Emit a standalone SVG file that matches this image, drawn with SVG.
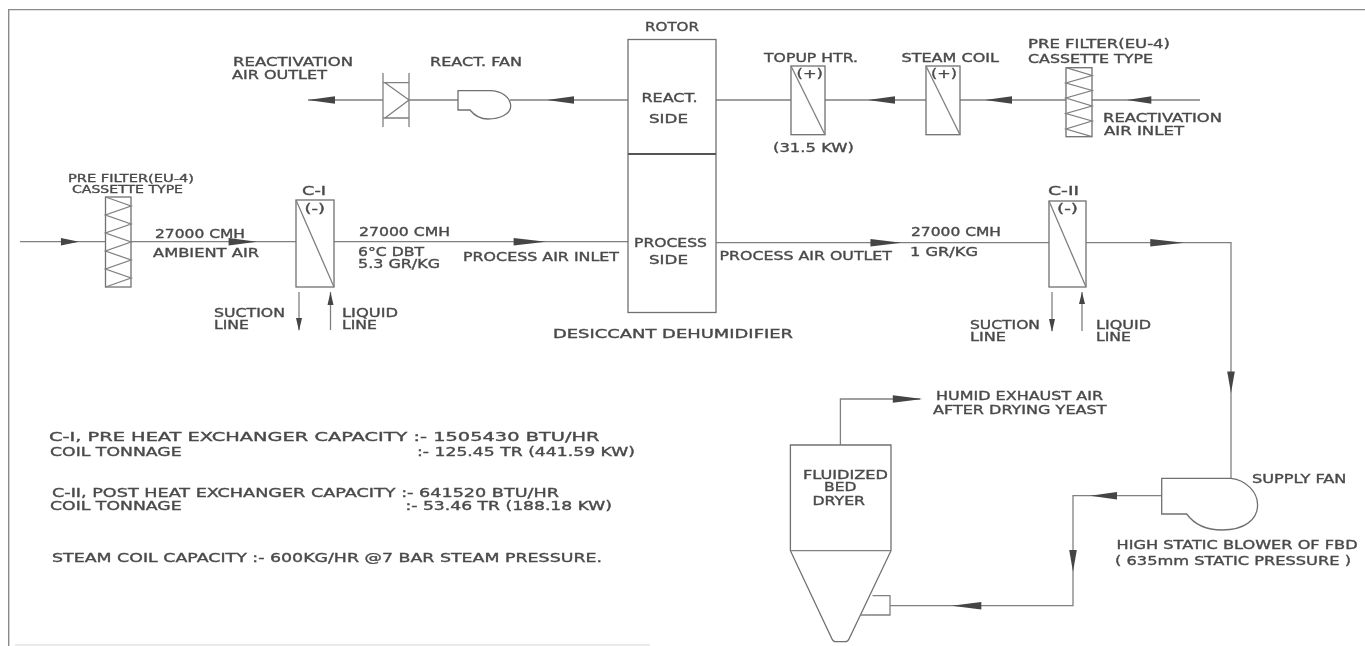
<svg xmlns="http://www.w3.org/2000/svg" width="1365" height="646" viewBox="0 0 1365 646">
<style>
text{font-family:"DejaVu Sans",Verdana,sans-serif;font-size:12px;fill:#4a4a4a;stroke:#4a4a4a;stroke-width:.35px}
.s{font-size:10.500px}
.l{fill:none;stroke:#808080;stroke-width:1.300}
.b{fill:#fff;stroke:#707070;stroke-width:1.300}
.k{fill:none;stroke:#555;stroke-width:1.800}
.a{fill:#444;stroke:none}
</style>
<defs>
<path id="ar" class="a" d="M0 0L-27 -3.800V3.800Z"/>
<path id="al" class="a" d="M0 0L27 -3.800V3.800Z"/>
<filter id="soft" x="0" y="0" width="100%" height="100%"><feGaussianBlur stdDeviation="0.35"/></filter>
</defs>
<rect width="1365" height="646" fill="#fff"/>
<g filter="url(#soft)">
<path d="M8.700 646V9.500H1365" fill="none" stroke="#8a8a8a" stroke-width="1.400"/>
<path d="M15 645H650" fill="none" stroke="#d5d5d5" stroke-width="1"/>
<g id="connectors">
<path class="l" d="M20 241.700H105.500M131 241.700H296M334 241.700H628M716 242.700H1049M1086 242.700H1231V478"/>
<path class="l" d="M308 100H383M409 100H458M510 100H628M716 100H791M825 100H926M960 100H1066M1092 100H1200"/>
<path class="l" d="M1162 495.700H1073V605.700H890"/>
<path class="l" d="M840.400 445V399H920"/>
<path class="l" d="M299 292V330M330.500 292V330M1052 292V331M1082 292V331"/>
<use href="#ar" transform="translate(79 241.700) scale(.67 1)"/>
<use href="#ar" transform="translate(257 241.700) scale(1.050 1)"/>
<use href="#ar" transform="translate(546 241.700) scale(1.200 1)"/>
<use href="#ar" transform="translate(901.500 242.700) scale(1.150 1)"/>
<use href="#ar" transform="translate(1184 242.700) scale(1.250 1)"/>
<use href="#al" transform="translate(308 100)"/>
<use href="#al" transform="translate(547 100)"/>
<use href="#al" transform="translate(868 100)"/>
<use href="#al" transform="translate(985 100)"/>
<use href="#al" transform="translate(1127 100) scale(.9 1)"/>
<use href="#ar" transform="translate(1231 393) rotate(90) scale(.8 1)"/>
<use href="#al" transform="translate(1090 495.700)"/>
<use href="#ar" transform="translate(1073 571.700) rotate(90) scale(.8 1)"/>
<use href="#al" transform="translate(951.600 605.700) scale(1.100 1)"/>
<use href="#ar" transform="translate(922.500 399) scale(1.100 1)"/>
<path class="a" d="M299 331L296 318H302ZM330.500 292L327.500 305H333.500ZM1052 332L1049 319H1055ZM1082 292L1079 304H1085Z"/>
</g>
<g id="filter-process"><rect class="b" x="105.500" y="197" width="25.500" height="90"/><path class="l" d="M105.500 197L131 206L105.500 215L131 224L105.500 233L131 242L105.500 251L131 260L105.500 269L131 278L105.500 287"/>
<text class="s" x="68" y="181.700" textLength="126" lengthAdjust="spacingAndGlyphs">PRE FILTER(EU-4)</text><text class="s" x="72" y="193" textLength="111" lengthAdjust="spacingAndGlyphs">CASSETTE TYPE</text></g>
<g id="c1"><rect class="b" x="296" y="200" width="38" height="87"/><path class="l" d="M296 200L334 287"/><text x="302" y="195" textLength="24" lengthAdjust="spacingAndGlyphs">C-I</text><text x="304.500" y="213" textLength="20.500" lengthAdjust="spacingAndGlyphs">(-)</text></g>
<g id="rotor"><rect x="628" y="39.500" width="88" height="273" class="b"/><path class="k" d="M628 154H716"/>
<text x="645" y="31" textLength="54" lengthAdjust="spacingAndGlyphs">ROTOR</text><text x="641.500" y="102" textLength="56" lengthAdjust="spacingAndGlyphs">REACT.</text><text x="649" y="123" textLength="39" lengthAdjust="spacingAndGlyphs">SIDE</text><text x="634" y="246.700" textLength="73" lengthAdjust="spacingAndGlyphs">PROCESS</text><text x="649" y="264" textLength="39" lengthAdjust="spacingAndGlyphs">SIDE</text></g>
<g id="react-damper"><path class="l" d="M383 73V127M409 73V127M383 82.700H409M383 118H409M385 82.700L409 100L385 118"/></g>
<g id="react-fan"><path class="b" d="M458 90.700H490C502 90.700 510.700 98 510.700 106C510.700 114 500 119 488 119C480 119 474 115 470 110H458Z"/></g>
<g id="topup"><rect class="b" x="791" y="66" width="34" height="68.700"/><path class="l" d="M791 66L825 134.700"/><text x="796.600" y="78" textLength="26.400" lengthAdjust="spacingAndGlyphs">(+)</text><text x="764" y="62" textLength="94" lengthAdjust="spacingAndGlyphs">TOPUP HTR.</text><text x="773" y="151.700" textLength="81" lengthAdjust="spacingAndGlyphs">(31.5 KW)</text></g>
<g id="steam"><rect class="b" x="926" y="66" width="34" height="68.700"/><path class="l" d="M926 66L960 134.700"/><text x="931" y="78" textLength="26" lengthAdjust="spacingAndGlyphs">(+)</text><text x="901.500" y="62" textLength="97.500" lengthAdjust="spacingAndGlyphs">STEAM COIL</text></g>
<g id="filter-react"><rect class="b" x="1066" y="67.700" width="26" height="69"/><path class="l" d="M1066 67.700L1092 75.500L1066 83L1092 90.500L1066 98L1092 106L1066 113.500L1092 121L1066 129L1092 136.700"/>
<text x="1028" y="47.700" textLength="142" lengthAdjust="spacingAndGlyphs">PRE FILTER(EU-4)</text><text x="1028" y="63" textLength="125" lengthAdjust="spacingAndGlyphs">CASSETTE TYPE</text></g>
<g id="c2"><rect class="b" x="1049" y="201" width="37" height="86"/><path class="l" d="M1049 201L1086 287"/><text x="1048" y="195" textLength="31" lengthAdjust="spacingAndGlyphs">C-II</text><text x="1057" y="213" textLength="21" lengthAdjust="spacingAndGlyphs">(-)</text></g>
<g id="dryer"><path class="b" d="M790.400 445H891V550.700L849 639Q848 641.700 845 641.700H836Q833 641.700 832 639L790.400 550.700Z"/><path class="l" d="M790.400 550.700H891"/><path class="l" d="M872.500 595.700H890V615H860.500"/>
<text x="803" y="479" textLength="85" lengthAdjust="spacingAndGlyphs">FLUIDIZED</text><text x="824" y="491" textLength="32.500" lengthAdjust="spacingAndGlyphs">BED</text><text x="812.500" y="505" textLength="52.500" lengthAdjust="spacingAndGlyphs">DRYER</text></g>
<g id="supply-fan"><path class="b" d="M1161.700 478.300H1231C1246 480 1257.600 492 1257.600 505C1257.600 520 1244 530 1222 530C1206 530 1194 524 1186.700 514H1161.700Z"/></g>
<g id="labels">
<text x="233" y="65.700" textLength="120" lengthAdjust="spacingAndGlyphs">REACTIVATION</text><text x="232" y="79" textLength="95" lengthAdjust="spacingAndGlyphs">AIR OUTLET</text><text x="430" y="65.700" textLength="92" lengthAdjust="spacingAndGlyphs">REACT. FAN</text>
<text x="155" y="237.700" textLength="90" lengthAdjust="spacingAndGlyphs">27000 CMH</text><text x="153" y="257" textLength="106" lengthAdjust="spacingAndGlyphs">AMBIENT AIR</text><text x="359" y="235.700" textLength="91" lengthAdjust="spacingAndGlyphs">27000 CMH</text><text x="358" y="255.700" textLength="66" lengthAdjust="spacingAndGlyphs">6°C DBT</text><text x="358" y="268" textLength="82" lengthAdjust="spacingAndGlyphs">5.3 GR/KG</text><text x="463" y="261" textLength="156" lengthAdjust="spacingAndGlyphs">PROCESS AIR INLET</text>
<text x="719.500" y="260" textLength="172.500" lengthAdjust="spacingAndGlyphs">PROCESS AIR OUTLET</text><text x="911" y="236" textLength="90" lengthAdjust="spacingAndGlyphs">27000 CMH</text><text x="910" y="256" textLength="68" lengthAdjust="spacingAndGlyphs">1 GR/KG</text>
<text x="1103" y="121.700" textLength="119" lengthAdjust="spacingAndGlyphs">REACTIVATION</text><text x="1104" y="135" textLength="80" lengthAdjust="spacingAndGlyphs">AIR INLET</text>
<text x="214" y="316.700" textLength="71" lengthAdjust="spacingAndGlyphs">SUCTION</text><text x="214" y="328.500" textLength="35" lengthAdjust="spacingAndGlyphs">LINE</text><text x="342" y="316.700" textLength="56" lengthAdjust="spacingAndGlyphs">LIQUID</text><text x="342" y="328.500" textLength="35" lengthAdjust="spacingAndGlyphs">LINE</text>
<text x="970" y="329" textLength="70" lengthAdjust="spacingAndGlyphs">SUCTION</text><text x="970" y="341" textLength="36" lengthAdjust="spacingAndGlyphs">LINE</text><text x="1096" y="329" textLength="55" lengthAdjust="spacingAndGlyphs">LIQUID</text><text x="1096" y="341" textLength="35" lengthAdjust="spacingAndGlyphs">LINE</text>
<text x="553" y="338" textLength="240" lengthAdjust="spacingAndGlyphs">DESICCANT DEHUMIDIFIER</text>
<text x="936" y="400" textLength="167" lengthAdjust="spacingAndGlyphs">HUMID EXHAUST AIR</text><text x="933" y="414" textLength="173.500" lengthAdjust="spacingAndGlyphs">AFTER DRYING YEAST</text>
<text x="1252" y="482.700" textLength="94.400" lengthAdjust="spacingAndGlyphs">SUPPLY FAN</text><text x="1116.600" y="549" textLength="241" lengthAdjust="spacingAndGlyphs">HIGH STATIC BLOWER OF FBD</text><text x="1115" y="565" textLength="236" lengthAdjust="spacingAndGlyphs">( 635mm STATIC PRESSURE )</text>
<text x="49" y="440.700" textLength="550.500" lengthAdjust="spacingAndGlyphs">C-I, PRE HEAT EXCHANGER CAPACITY :- 1505430 BTU/HR</text><text x="50" y="455.700" textLength="131.600" lengthAdjust="spacingAndGlyphs">COIL TONNAGE</text><text x="417" y="455.700" textLength="218" lengthAdjust="spacingAndGlyphs">:- 125.45 TR (441.59 KW)</text>
<text x="52" y="497.300" textLength="507" lengthAdjust="spacingAndGlyphs">C-II, POST HEAT EXCHANGER CAPACITY :- 641520 BTU/HR</text><text x="50" y="510" textLength="131.600" lengthAdjust="spacingAndGlyphs">COIL TONNAGE</text><text x="405.500" y="510" textLength="206.500" lengthAdjust="spacingAndGlyphs">:- 53.46 TR (188.18 KW)</text>
<text x="52" y="562.300" textLength="550" lengthAdjust="spacingAndGlyphs">STEAM COIL CAPACITY :- 600KG/HR @7 BAR STEAM PRESSURE.</text>
</g>
</g>
</svg>
